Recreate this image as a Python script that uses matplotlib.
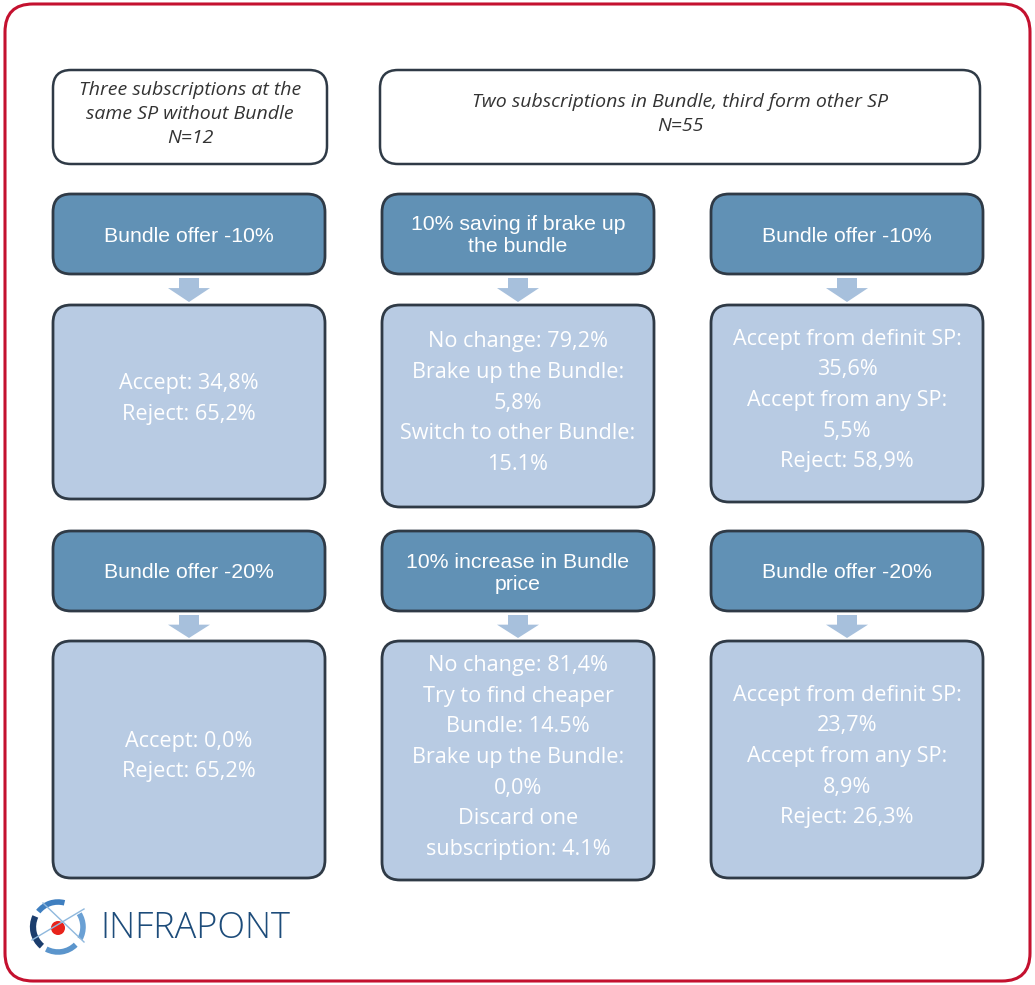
import matplotlib.pyplot as plt
from matplotlib.patches import FancyBboxPatch, Polygon, Circle, Arc

# header boxes
header_texts = [
    "Three subscriptions at the\nsame SP without Bundle\nN=12",
    "Two subscriptions in Bundle, third form other SP\nN=55",
]

# scenario (dark) boxes, row by row, column by column
scenario_texts = [
    ["Bundle offer -10%", "10% saving if brake up\nthe bundle", "Bundle offer -10%"],
    ["Bundle offer -20%", "10% increase in Bundle\nprice", "Bundle offer -20%"],
]

# result (light) boxes
result_texts = [
    ["Accept: 34,8%\nReject: 65,2%",
     "No change: 79,2%\nBrake up the Bundle:\n5,8%\nSwitch to other Bundle:\n15.1%",
     "Accept from definit SP:\n35,6%\nAccept from any SP:\n5,5%\nReject: 58,9%"],
    ["Accept: 0,0%\nReject: 65,2%",
     "No change: 81,4%\nTry to find cheaper\nBundle: 14.5%\nBrake up the Bundle:\n0,0%\nDiscard one\nsubscription: 4.1%",
     "Accept from definit SP:\n23,7%\nAccept from any SP:\n8,9%\nReject: 26,3%"],
]

logo_text = "INFRAPONT"

DARK = "#6191b5"
LIGHT = "#b8cbe3"
ARROW = "#a7c0dc"
EDGE = "#2f3a46"
RED = "#c4112f"

fig = plt.figure(figsize=(10.35, 9.85), dpi=100)
ax = fig.add_axes([0, 0, 1, 1])
ax.set_xlim(0, 1035)
ax.set_ylim(985, 0)
ax.axis("off")


def rbox(x0, y0, x1, y1, fc, ec, lw=2.0, r=18):
    p = FancyBboxPatch((x0, y0), x1 - x0, y1 - y0,
                       boxstyle=f"round,pad=0,rounding_size={r}",
                       fc=fc, ec=ec, lw=lw)
    ax.add_patch(p)


# outer frame
rbox(5, 4, 1030, 981, "white", RED, lw=2.2, r=28)

# headers
rbox(53, 70, 327, 164, "white", EDGE, lw=1.8)
rbox(380, 70, 980, 164, "white", EDGE, lw=1.8)
ax.text(190, 114, header_texts[0], ha="center", va="center", style="italic",
        fontsize=14, color="#333333", family="Open Sans", linespacing=1.4)
ax.text(680, 114, header_texts[1], ha="center", va="center", style="italic",
        fontsize=14, color="#333333", family="Open Sans", linespacing=1.4)

cols = [(53, 325), (382, 654), (711, 983)]
rows = [
    # dark box y, arrow y, light box bottoms per column
    (194, 274, 305, [499, 507, 502]),
    (531, 611, 641, [878, 880, 878]),
]

for r, (dy0, dy1, ly0, ly1s) in enumerate(rows):
    for c, (x0, x1) in enumerate(cols):
        cx = (x0 + x1) / 2
        rbox(x0, dy0, x1, dy1, DARK, EDGE, lw=2.0)
        ax.text(cx, (dy0 + dy1) / 2 + 2, scenario_texts[r][c], ha="center",
                va="center", color="white", fontsize=15.3,
                family="Liberation Sans", linespacing=1.2)
        # arrow
        a0, a1 = dy1 + 4, ly0 - 3
        mid = a0 + (a1 - a0) * 0.42
        ax.add_patch(Polygon([(cx - 10, a0), (cx + 10, a0), (cx + 10, mid),
                              (cx + 21, mid), (cx, a1), (cx - 21, mid),
                              (cx - 10, mid)], closed=True, fc=ARROW, ec="none"))
        ly1 = ly1s[c]
        rbox(x0, ly0, x1, ly1, LIGHT, EDGE, lw=2.0)
        ax.text(cx, (ly0 + ly1) / 2 - 3, result_texts[r][c], ha="center",
                va="center", color="white", fontsize=15.6,
                family="Open Sans", linespacing=1.6)

# logo icon
lc, r0 = (58, 927), 25
ax.plot([43, 84], [903, 942], color="#8fb8dd", lw=1.0)
ax.plot([32, 84], [940, 909], color="#8fb8dd", lw=1.0)
ax.add_patch(Arc(lc, 2 * r0, 2 * r0, theta1=130, theta2=205,
                 color="#1b3d6d", lw=4.5))
ax.add_patch(Arc(lc, 2 * r0, 2 * r0, theta1=218, theta2=285,
                 color="#3f7fc0", lw=4.0))
ax.add_patch(Arc(lc, 2 * r0, 2 * r0, theta1=-32, theta2=28,
                 color="#6aa0d4", lw=4.0))
ax.add_patch(Arc(lc, 2 * r0, 2 * r0, theta1=45, theta2=118,
                 color="#5b95cc", lw=4.0))
ax.add_patch(Circle((58, 928), 7, fc="#e8231b", ec="none"))
ax.text(100, 929, logo_text, ha="left", va="center", fontsize=26,
        color="#1d4c7a", family="Open Sans", weight="light")

fig.savefig("out.png", dpi=100)
